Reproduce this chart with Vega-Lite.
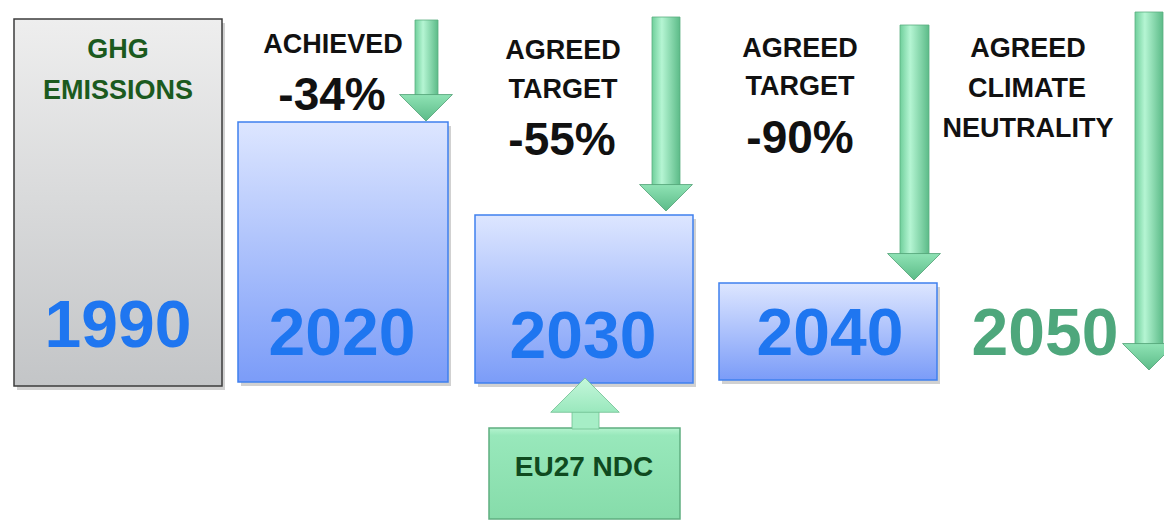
{
  "$schema": "https://vega.github.io/schema/vega-lite/v6.json",
  "width": 1164,
  "height": 520,
  "padding": 0,
  "autosize": {"type": "fit", "contains": "padding"},
  "background": "white",
  "config": {"view": {"stroke": null}},
  "datasets": {
    "bars": [
      {"year": "1990", "kind": "base", "left": 14, "right": 222, "top": 19, "bottom": 386},
      {"year": "2020", "kind": "target", "left": 238, "right": 448, "top": 122, "bottom": 382},
      {"year": "2030", "kind": "target", "left": 475, "right": 693, "top": 215, "bottom": 383},
      {"year": "2040", "kind": "target", "left": 719, "right": 937, "top": 283, "bottom": 380},
      {"year": "NDC", "kind": "ndc", "left": 489, "right": 680, "top": 428, "bottom": 519}
    ],
    "arrows": [
      {"year": "2020", "cx": 426, "sL": 415, "sR": 438, "top": 20, "stop": 104, "tip": 121},
      {"year": "2030", "cx": 666, "sL": 652, "sR": 680, "top": 17, "stop": 192, "tip": 211},
      {"year": "2040", "cx": 914, "sL": 900, "sR": 929, "top": 25, "stop": 255, "tip": 280},
      {"year": "2050", "cx": 1149, "sL": 1135, "sR": 1163, "top": 12, "stop": 350, "tip": 370}
    ],
    "uparrow": [
      {"cx": 585, "sL": 572, "sR": 599, "top": 404, "stop": 429, "tip": 378}
    ],
    "texts": [
      {"role": "ghg", "label": "GHG", "x": 118, "y": 58},
      {"role": "ghg", "label": "EMISSIONS", "x": 118, "y": 99},
      {"role": "year", "label": "1990", "x": 118, "y": 347},
      {"role": "year", "label": "2020", "x": 342, "y": 355},
      {"role": "year", "label": "2030", "x": 583, "y": 358},
      {"role": "year", "label": "2040", "x": 830, "y": 355},
      {"role": "y2050", "label": "2050", "x": 1045, "y": 355},
      {"role": "head", "label": "ACHIEVED", "x": 333, "y": 53},
      {"role": "pct", "label": "-34%", "x": 332, "y": 110},
      {"role": "head", "label": "AGREED", "x": 563, "y": 59},
      {"role": "head", "label": "TARGET", "x": 563, "y": 98},
      {"role": "pct", "label": "-55%", "x": 562, "y": 155},
      {"role": "head", "label": "AGREED", "x": 800, "y": 57},
      {"role": "head", "label": "TARGET", "x": 800, "y": 95},
      {"role": "pct", "label": "-90%", "x": 800, "y": 153},
      {"role": "head", "label": "AGREED", "x": 1028, "y": 57},
      {"role": "head", "label": "CLIMATE", "x": 1027, "y": 97},
      {"role": "head", "label": "NEUTRALITY", "x": 1028, "y": 137},
      {"role": "ndc", "label": "EU27 NDC", "x": 584, "y": 476}
    ]
  },
  "layer": [
    {
      "data": {"name": "bars"},
      "transform": [{"filter": "datum.kind !== 'ndc'"}],
      "mark": {"type": "rect", "color": "#000000", "opacity": 0.18, "xOffset": 3, "x2Offset": 3, "yOffset": 4, "y2Offset": 4},
      "encoding": {
        "x": {"field": "left", "type": "quantitative", "scale": {"domain": [0, 1164], "nice": false, "zero": false}, "axis": null},
        "x2": {"field": "right"},
        "y": {"field": "top", "type": "quantitative", "scale": {"domain": [0, 520], "nice": false, "zero": false, "reverse": true}, "axis": null},
        "y2": {"field": "bottom"}
      }
    },
    {
      "data": {"name": "bars"},
      "transform": [{"filter": "datum.kind === 'base'"}],
      "mark": {"type": "rect", "stroke": "#3d3d3d", "strokeWidth": 1.5,
        "fill": {"gradient": "linear", "x1": 0, "y1": 0, "x2": 0, "y2": 1,
          "stops": [{"offset": 0, "color": "#eeeeee"}, {"offset": 1, "color": "#c3c5c7"}]}},
      "encoding": {
        "x": {"field": "left", "type": "quantitative"},
        "x2": {"field": "right"},
        "y": {"field": "top", "type": "quantitative"},
        "y2": {"field": "bottom"}
      }
    },
    {
      "data": {"name": "bars"},
      "transform": [{"filter": "datum.kind === 'target'"}],
      "mark": {"type": "rect", "stroke": "#3f80ee", "strokeWidth": 1.5,
        "fill": {"gradient": "linear", "x1": 0, "y1": 0, "x2": 0, "y2": 1,
          "stops": [{"offset": 0, "color": "#dde6ff"}, {"offset": 1, "color": "#7b9cf8"}]}},
      "encoding": {
        "x": {"field": "left", "type": "quantitative"},
        "x2": {"field": "right"},
        "y": {"field": "top", "type": "quantitative"},
        "y2": {"field": "bottom"}
      }
    },
    {
      "data": {"name": "bars"},
      "transform": [{"filter": "datum.kind === 'ndc'"}],
      "mark": {"type": "rect", "stroke": "#5fae80", "strokeWidth": 1.5, "clip": true,
        "fill": {"gradient": "linear", "x1": 0, "y1": 0, "x2": 0, "y2": 1,
          "stops": [{"offset": 0, "color": "#b4f3cf"}, {"offset": 0.08, "color": "#98e8bb"}, {"offset": 1, "color": "#86dcaa"}]}},
      "encoding": {
        "x": {"field": "left", "type": "quantitative"},
        "x2": {"field": "right"},
        "y": {"field": "top", "type": "quantitative"},
        "y2": {"field": "bottom"}
      }
    },
    {
      "data": {"name": "arrows"},
      "mark": {"type": "rect", "stroke": "#5aaf80", "strokeWidth": 0.8, "clip": true,
        "fill": {"gradient": "linear", "x1": 0, "y1": 0, "x2": 1, "y2": 0,
          "stops": [{"offset": 0, "color": "#6fcf9b"}, {"offset": 0.35, "color": "#b5f5d3"}, {"offset": 1, "color": "#5cbb88"}]}},
      "encoding": {
        "x": {"field": "sL", "type": "quantitative"},
        "x2": {"field": "sR"},
        "y": {"field": "top", "type": "quantitative"},
        "y2": {"field": "stop"}
      }
    },
    {
      "data": {"name": "arrows"},
      "mark": {"type": "point", "filled": true, "size": 2800, "opacity": 1, "clip": true,
        "shape": "M-1,-1L1,-1L0,0Z", "stroke": "#4f9f74", "strokeWidth": 0.8,
        "fill": {"gradient": "linear", "x1": 0, "y1": 0, "x2": 0, "y2": 1,
          "stops": [{"offset": 0, "color": "#8fe3b5"}, {"offset": 1, "color": "#5cbb88"}]}},
      "encoding": {
        "x": {"field": "cx", "type": "quantitative"},
        "y": {"field": "tip", "type": "quantitative"}
      }
    },
    {
      "data": {"name": "uparrow"},
      "mark": {"type": "rect", "fill": "#a6eec6", "stroke": "#6fbf90", "strokeWidth": 0.8},
      "encoding": {
        "x": {"field": "sL", "type": "quantitative"},
        "x2": {"field": "sR"},
        "y": {"field": "top", "type": "quantitative"},
        "y2": {"field": "stop"}
      }
    },
    {
      "data": {"name": "uparrow"},
      "mark": {"type": "point", "filled": true, "size": 4700, "opacity": 1,
        "shape": "M-1,1L1,1L0,0Z", "stroke": "#6fbf90", "strokeWidth": 0.8,
        "fill": {"gradient": "linear", "x1": 0, "y1": 0, "x2": 0, "y2": 1,
          "stops": [{"offset": 0, "color": "#c4f7db"}, {"offset": 1, "color": "#9ae8bd"}]}},
      "encoding": {
        "x": {"field": "cx", "type": "quantitative"},
        "y": {"field": "tip", "type": "quantitative"}
      }
    },
    {
      "data": {"name": "texts"},
      "transform": [{"filter": "datum.role === 'ghg'"}],
      "mark": {"type": "text", "font": "Liberation Sans", "fontWeight": "bold", "fontSize": 27, "color": "#1b5a1e", "align": "center", "baseline": "alphabetic"},
      "encoding": {
        "x": {"field": "x", "type": "quantitative"},
        "y": {"field": "y", "type": "quantitative"},
        "text": {"field": "label"}
      }
    },
    {
      "data": {"name": "texts"},
      "transform": [{"filter": "datum.role === 'head'"}],
      "mark": {"type": "text", "font": "Liberation Sans", "fontWeight": "bold", "fontSize": 27, "color": "#111111", "align": "center", "baseline": "alphabetic"},
      "encoding": {
        "x": {"field": "x", "type": "quantitative"},
        "y": {"field": "y", "type": "quantitative"},
        "text": {"field": "label"}
      }
    },
    {
      "data": {"name": "texts"},
      "transform": [{"filter": "datum.role === 'pct'"}],
      "mark": {"type": "text", "font": "Liberation Sans", "fontWeight": "bold", "fontSize": 46, "color": "#111111", "align": "center", "baseline": "alphabetic"},
      "encoding": {
        "x": {"field": "x", "type": "quantitative"},
        "y": {"field": "y", "type": "quantitative"},
        "text": {"field": "label"}
      }
    },
    {
      "data": {"name": "texts"},
      "transform": [{"filter": "datum.role === 'year'"}],
      "mark": {"type": "text", "font": "Liberation Sans", "fontWeight": "bold", "fontSize": 66, "color": "#1f76f0", "align": "center", "baseline": "alphabetic"},
      "encoding": {
        "x": {"field": "x", "type": "quantitative"},
        "y": {"field": "y", "type": "quantitative"},
        "text": {"field": "label"}
      }
    },
    {
      "data": {"name": "texts"},
      "transform": [{"filter": "datum.role === 'y2050'"}],
      "mark": {"type": "text", "font": "Liberation Sans", "fontWeight": "bold", "fontSize": 66, "color": "#4ea77c", "align": "center", "baseline": "alphabetic"},
      "encoding": {
        "x": {"field": "x", "type": "quantitative"},
        "y": {"field": "y", "type": "quantitative"},
        "text": {"field": "label"}
      }
    },
    {
      "data": {"name": "texts"},
      "transform": [{"filter": "datum.role === 'ndc'"}],
      "mark": {"type": "text", "font": "Liberation Sans", "fontWeight": "bold", "fontSize": 28, "color": "#0f4a1f", "align": "center", "baseline": "alphabetic"},
      "encoding": {
        "x": {"field": "x", "type": "quantitative"},
        "y": {"field": "y", "type": "quantitative"},
        "text": {"field": "label"}
      }
    }
  ]
}
